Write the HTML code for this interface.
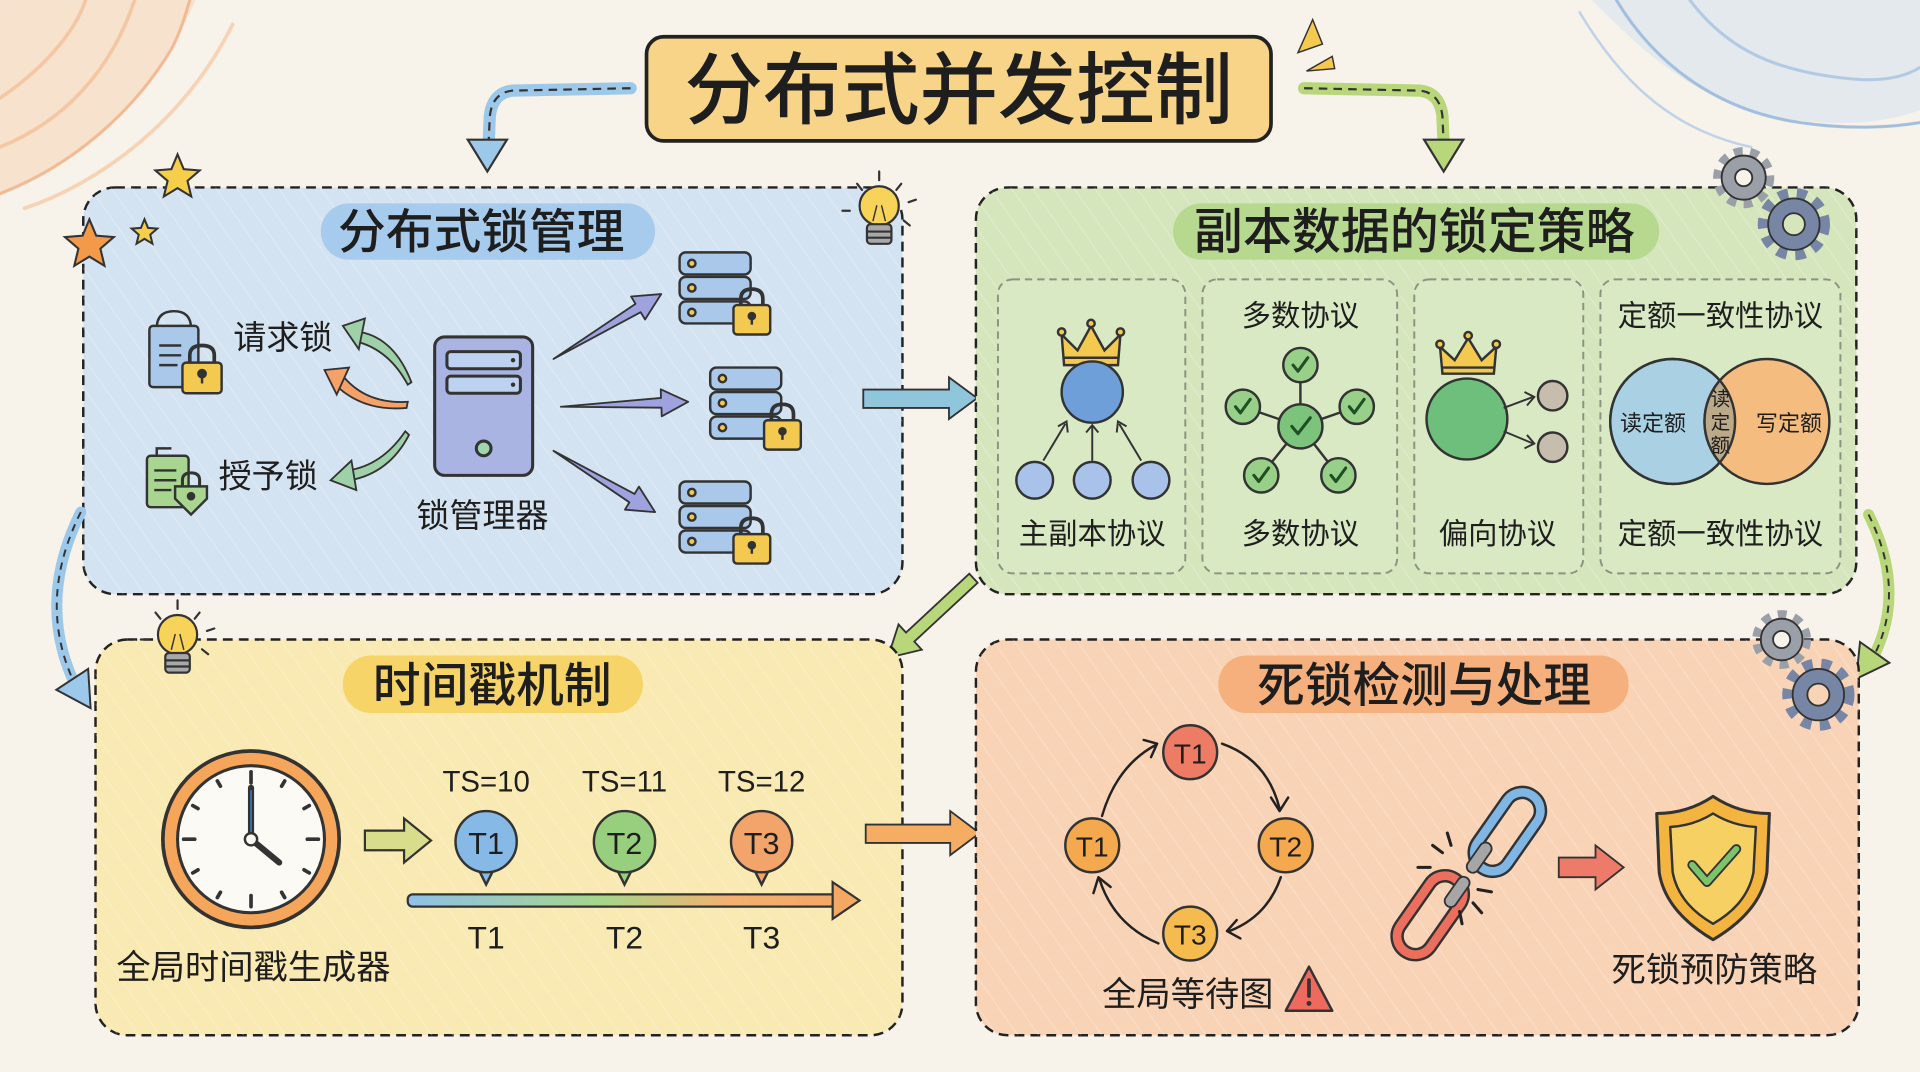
<!DOCTYPE html>
<html><head><meta charset="utf-8"><style>
html,body{margin:0;padding:0;background:#f7f3ea;}
svg{display:block;}
text{font-family:"Liberation Sans","Noto Sans CJK SC",sans-serif;fill:#1e1e1e;}
.h{font-weight:500;}
</style></head><body>
<svg width="1920" height="1072" viewBox="0 0 1568 875" preserveAspectRatio="none" xmlns="http://www.w3.org/2000/svg">
<defs>
<linearGradient id="tl" x1="0" x2="1" y1="0" y2="0">
<stop offset="0" stop-color="#8fc1e8"/><stop offset="0.45" stop-color="#a6d68a"/><stop offset="0.75" stop-color="#f3b070"/><stop offset="1" stop-color="#f3a865"/>
</linearGradient>
<pattern id="hatch" width="14" height="14" patternUnits="userSpaceOnUse" patternTransform="rotate(-35)">
<line x1="0" y1="0" x2="0" y2="14" stroke="#ffffff" stroke-width="1.2" opacity="0.35"/>
</pattern>
<clipPath id="vb"><circle cx="1366" cy="344" r="51"/></clipPath>
</defs>
<rect width="1568" height="875" fill="#f7f3ea"/>
<!-- background scribbles -->
<g opacity="0.55" fill="none" stroke-linecap="round">
<path d="M0,160 C40,140 90,110 120,70 C140,45 150,20 160,0 L0,0 Z" fill="#f7c9a0" stroke="none" opacity="0.7"/>
<path d="M0,158 C60,135 110,90 140,40 C148,25 152,10 155,0" stroke="#ef8a4a" stroke-width="2.5"/>
<path d="M0,120 C50,100 90,60 110,0" stroke="#f1a36a" stroke-width="3"/>
<path d="M0,80 C30,60 60,30 70,0" stroke="#f1a36a" stroke-width="3"/>
<path d="M20,170 C80,150 150,100 190,20" stroke="#f4b888" stroke-width="3"/>
<path d="M1300,0 C1340,40 1380,80 1450,95 C1500,105 1540,100 1568,90 L1568,0 Z" fill="#c6daf2" stroke="none" opacity="0.7"/>
<path d="M1320,0 C1350,50 1400,90 1470,100 C1510,106 1545,104 1568,100" stroke="#5b93d6" stroke-width="2.5"/>
<path d="M1380,0 C1410,40 1450,60 1520,65 C1545,66 1560,60 1568,55" stroke="#78a7df" stroke-width="2.5"/>
<path d="M1290,10 C1320,60 1360,105 1430,120" stroke="#8fb6e4" stroke-width="2"/>
</g>

<!-- title -->
<rect x="528" y="30" width="510" height="85" rx="14" fill="#f7d487" stroke="#222" stroke-width="3"/>
<text x="783" y="96" font-size="64" text-anchor="middle" class="h">分布式并发控制</text>
<g fill="#f3c94f" stroke="#333" stroke-width="1.2">
<polygon points="1060,43 1072,16 1080,36"/>
<polygon points="1067,58 1088,46 1090,56"/>
</g>

<!-- top connectors -->
<path d="M515,72 L418,74 Q402,76 400,95 L399,118" fill="none" stroke="#9cc8ea" stroke-width="10" stroke-linecap="round"/>
<path d="M515,72 L418,74 Q402,76 400,95 L399,118" fill="none" stroke="#333" stroke-width="1.8" stroke-dasharray="7,5"/>
<polygon points="382,114 414,114 398,140" fill="#9cc8ea" stroke="#333" stroke-width="1.8"/>
<path d="M1065,72 L1160,74 Q1176,76 1178,95 L1179,118" fill="none" stroke="#b7d77a" stroke-width="10" stroke-linecap="round"/>
<path d="M1065,72 L1160,74 Q1176,76 1178,95 L1179,118" fill="none" stroke="#333" stroke-width="1.8" stroke-dasharray="7,5"/>
<polygon points="1163,114 1195,114 1179,140" fill="#b7d77a" stroke="#333" stroke-width="1.8"/>

<!-- BLUE PANEL -->
<rect x="68" y="153" width="669" height="332" rx="26" fill="#d4e3f1" stroke="#222" stroke-width="2" stroke-dasharray="8,5"/>
<rect x="68" y="153" width="669" height="332" rx="26" fill="url(#hatch)"/>
<rect x="262" y="166" width="273" height="46" rx="23" fill="#a7cbed"/>
<text x="393" y="203" font-size="39" text-anchor="middle" class="h">分布式锁管理</text>
<!-- stars -->
<polygon transform="translate(145,145) scale(19)" points="0,-1 0.265,-0.364 0.951,-0.309 0.428,0.139 0.588,0.809 0,0.45 -0.588,0.809 -0.428,0.139 -0.951,-0.309 -0.265,-0.364" fill="#f5cf4c" stroke="#333" stroke-width="0.09"/>
<polygon transform="translate(73,200) scale(21)" points="0,-1 0.265,-0.364 0.951,-0.309 0.428,0.139 0.588,0.809 0,0.45 -0.588,0.809 -0.428,0.139 -0.951,-0.309 -0.265,-0.364" fill="#f2994a" stroke="#333" stroke-width="0.08"/>
<polygon transform="translate(118,190) scale(11)" points="0,-1 0.265,-0.364 0.951,-0.309 0.428,0.139 0.588,0.809 0,0.45 -0.588,0.809 -0.428,0.139 -0.951,-0.309 -0.265,-0.364" fill="#f5cf4c" stroke="#333" stroke-width="0.15"/>
<!-- lightbulb 1 -->
<g stroke="#333" stroke-width="1.8" stroke-linecap="round">
<circle cx="718" cy="168" r="16" fill="#f7d35a"/>
<rect x="708" y="183" width="20" height="16" rx="3" fill="#a8a8a8"/>
<line x1="709" y1="189" x2="727" y2="189"/><line x1="709" y1="194" x2="727" y2="194"/>
<path d="M713,180 L716,168 M723,180 L720,168" fill="none" stroke-width="1.2"/>
<line x1="718" y1="140" x2="718" y2="147"/><line x1="700" y1="150" x2="704" y2="155"/><line x1="736" y1="150" x2="732" y2="155"/>
<line x1="742" y1="165" x2="748" y2="163"/><line x1="694" y1="172" x2="688" y2="172"/><line x1="738" y1="180" x2="743" y2="184"/>
</g>
<!-- request lock doc -->
<g stroke="#333" stroke-width="2">
<path d="M128,268 Q128,254 142,254 Q156,254 156,268" fill="none"/>
<rect x="122" y="266" width="40" height="50" rx="3" fill="#a9c8ea"/>
<line x1="130" y1="282" x2="148" y2="282"/><line x1="130" y1="290" x2="148" y2="290"/><line x1="130" y1="298" x2="145" y2="298"/>
<path d="M155,297 L155,290 Q155,282 165,282 Q175,282 175,290 L175,297" fill="none" stroke-width="3"/>
<rect x="149" y="296" width="32" height="25" rx="3" fill="#f3c94f"/>
<circle cx="165" cy="305" r="3" fill="#333"/><line x1="165" y1="306" x2="165" y2="313"/>
</g>
<text x="231" y="285" font-size="27" text-anchor="middle">请求锁</text>
<!-- grant lock clipboard -->
<g stroke="#333" stroke-width="2">
<rect x="120" y="372" width="34" height="42" rx="3" fill="#a8d590"/>
<path d="M128,372 L128,366 L140,366" fill="none"/>
<line x1="126" y1="384" x2="144" y2="384"/><line x1="126" y1="392" x2="144" y2="392"/><line x1="126" y1="400" x2="140" y2="400"/>
<path d="M149,398 L149,392 Q149,386 156,386 Q163,386 163,392 L163,398" fill="none" stroke-width="2.5"/>
<path d="M143,397 L169,397 L169,407 L156,420 L143,407 Z" fill="#a8d590"/>
<circle cx="156" cy="405" r="2.5" fill="#333"/>
</g>
<text x="219" y="398" font-size="27" text-anchor="middle">授予锁</text>
<!-- curved arrows left -->
<g stroke="#333" stroke-width="1.5">
<path d="M336,312 Q322,276 294,271 L292,279 Q318,286 333,314 Z" fill="#9fd1a8"/>
<polygon points="280,266 298,260 293,285" fill="#9fd1a8"/>
<path d="M333,328 Q300,330 281,308 L276,316 Q298,336 332,333 Z" fill="#f4a26a"/>
<polygon points="265,302 285,300 275,322" fill="#f4a26a"/>
<path d="M331,352 Q312,380 284,384 L286,392 Q318,386 334,355 Z" fill="#9fd1a8"/>
<polygon points="270,392 287,376 291,400" fill="#9fd1a8"/>
</g>
<!-- lock manager tower -->
<g stroke="#333" stroke-width="2.5">
<rect x="355" y="275" width="80" height="113" rx="8" fill="#a9b4e2"/>
<rect x="365" y="287" width="60" height="14" rx="3" fill="#bcd2f0"/>
<rect x="365" y="307" width="60" height="14" rx="3" fill="#bcd2f0"/>
<circle cx="395" cy="366" r="6" fill="#9fd4ae"/>
</g>
<circle cx="419" cy="294" r="1.8" fill="#333"/><circle cx="419" cy="314" r="1.8" fill="#333"/>
<text x="394" y="430" font-size="27" text-anchor="middle">锁管理器</text>
<!-- purple arrows -->
<g fill="#9ea2de" stroke="#333" stroke-width="1.5" stroke-linejoin="round">
<polygon points="452,293 523.2,254.8 526.8,260.8 540,240 515.4,242.0 519.0,248.0"/>
<polygon points="458,332 540.2,332.8 540.4,339.8 562,328 539.6,317.8 539.8,324.8"/>
<polygon points="452,368 514.0,410.0 510.4,416.0 535,418 521.8,397.2 518.2,403.2"/>
</g>
<!-- servers -->
<g stroke="#333" stroke-width="2">
<g transform="translate(555,206)">
<rect x="0" y="0" width="58" height="18" rx="5" fill="#a9c8ea"/><rect x="0" y="20" width="58" height="18" rx="5" fill="#a9c8ea"/><rect x="0" y="40" width="58" height="18" rx="5" fill="#a9c8ea"/>
<circle cx="10" cy="9" r="3" fill="#f3c94f"/><circle cx="10" cy="29" r="3" fill="#f3c94f"/><circle cx="10" cy="49" r="3" fill="#f3c94f"/>
<path d="M50,44 L50,38 Q50,30 59,30 Q68,30 68,38 L68,44" fill="none" stroke-width="3"/>
<rect x="44" y="43" width="30" height="24" rx="3" fill="#f3c94f"/>
<circle cx="59" cy="52" r="2.5" fill="#333"/><line x1="59" y1="53" x2="59" y2="59"/>
</g>
<g transform="translate(580,300)">
<rect x="0" y="0" width="58" height="18" rx="5" fill="#a9c8ea"/><rect x="0" y="20" width="58" height="18" rx="5" fill="#a9c8ea"/><rect x="0" y="40" width="58" height="18" rx="5" fill="#a9c8ea"/>
<circle cx="10" cy="9" r="3" fill="#f3c94f"/><circle cx="10" cy="29" r="3" fill="#f3c94f"/><circle cx="10" cy="49" r="3" fill="#f3c94f"/>
<path d="M50,44 L50,38 Q50,30 59,30 Q68,30 68,38 L68,44" fill="none" stroke-width="3"/>
<rect x="44" y="43" width="30" height="24" rx="3" fill="#f3c94f"/>
<circle cx="59" cy="52" r="2.5" fill="#333"/><line x1="59" y1="53" x2="59" y2="59"/>
</g>
<g transform="translate(555,393)">
<rect x="0" y="0" width="58" height="18" rx="5" fill="#a9c8ea"/><rect x="0" y="20" width="58" height="18" rx="5" fill="#a9c8ea"/><rect x="0" y="40" width="58" height="18" rx="5" fill="#a9c8ea"/>
<circle cx="10" cy="9" r="3" fill="#f3c94f"/><circle cx="10" cy="29" r="3" fill="#f3c94f"/><circle cx="10" cy="49" r="3" fill="#f3c94f"/>
<path d="M50,44 L50,38 Q50,30 59,30 Q68,30 68,38 L68,44" fill="none" stroke-width="3"/>
<rect x="44" y="43" width="30" height="24" rx="3" fill="#f3c94f"/>
<circle cx="59" cy="52" r="2.5" fill="#333"/><line x1="59" y1="53" x2="59" y2="59"/>
</g>
</g>

<!-- blue->green arrow -->
<polygon points="705,318 775,318 775,308 798,325 775,342 775,333 705,333" fill="#8fc6dc" stroke="#333" stroke-width="1.5"/>

<!-- GREEN PANEL -->
<rect x="797" y="153" width="719" height="332" rx="26" fill="#d5e6bd" stroke="#222" stroke-width="2" stroke-dasharray="8,5"/>
<rect x="797" y="153" width="719" height="332" rx="26" fill="url(#hatch)"/>
<rect x="958" y="166" width="397" height="46" rx="23" fill="#b6d88f"/>
<text x="1155" y="203" font-size="40" text-anchor="middle" class="h">副本数据的锁定策略</text>
<!-- gears top right -->
<g stroke="#333" stroke-width="1.5">
<circle cx="1424" cy="145" r="21" fill="none" stroke="#9ba0a8" stroke-width="8" stroke-dasharray="7,6"/>
<circle cx="1424" cy="145" r="18" fill="#9ba0a8"/>
<circle cx="1424" cy="145" r="7" fill="#f7f3ea"/>
<circle cx="1465" cy="183" r="25" fill="none" stroke="#7886a6" stroke-width="9" stroke-dasharray="8,7"/>
<circle cx="1465" cy="183" r="21" fill="#7886a6"/>
<circle cx="1465" cy="183" r="9" fill="#d5e6bd"/>
</g>
<!-- sub boxes -->
<g fill="#d9e9c4" stroke="#8b9480" stroke-width="1.6" stroke-dasharray="6,4">
<rect x="815" y="228" width="153" height="240" rx="12"/>
<rect x="982" y="228" width="159" height="240" rx="12"/>
<rect x="1155" y="228" width="138" height="240" rx="12"/>
<rect x="1307" y="228" width="196" height="240" rx="12"/>
</g>
<!-- sub1: primary copy -->
<g stroke="#333" stroke-width="2">
<path d="M869,298 L867,273 L880,286 L891,266 L902,286 L915,273 L913,298 Z" fill="#f3c94f"/>
<line x1="869" y1="292" x2="913" y2="292"/>
<circle cx="867" cy="271" r="3" fill="#f3c94f"/><circle cx="891" cy="264" r="3" fill="#f3c94f"/><circle cx="915" cy="271" r="3" fill="#f3c94f"/>
<circle cx="892" cy="320" r="25" fill="#6e9fd8"/>
<circle cx="845" cy="392" r="15" fill="#a9c2ea"/><circle cx="892" cy="392" r="15" fill="#a9c2ea"/><circle cx="940" cy="392" r="15" fill="#a9c2ea"/>
<line x1="852" y1="376" x2="870" y2="346" stroke-width="1.6"/><line x1="892" y1="376" x2="892" y2="348" stroke-width="1.6"/><line x1="932" y1="376" x2="914" y2="346" stroke-width="1.6"/>
<path d="M864,348 L871,344 L872,353" fill="none" stroke-width="1.6"/>
<path d="M887,353 L892,347 L897,353" fill="none" stroke-width="1.6"/>
<path d="M912,353 L913,344 L920,348" fill="none" stroke-width="1.6"/>
</g>
<text x="892" y="444" font-size="24" text-anchor="middle">主副本协议</text>
<!-- sub2: majority -->
<text x="1062" y="266" font-size="24" text-anchor="middle">多数协议</text>
<g stroke="#333" stroke-width="2">
<line x1="1062" y1="348" x2="1062" y2="300"/><line x1="1062" y1="348" x2="1015" y2="332"/><line x1="1062" y1="348" x2="1108" y2="332"/><line x1="1062" y1="348" x2="1030" y2="388"/><line x1="1062" y1="348" x2="1093" y2="388"/>
<circle cx="1062" cy="298" r="14" fill="#98d08a"/><circle cx="1015" cy="332" r="14" fill="#98d08a"/><circle cx="1108" cy="332" r="14" fill="#98d08a"/><circle cx="1030" cy="388" r="14" fill="#98d08a"/><circle cx="1093" cy="388" r="14" fill="#98d08a"/>
<circle cx="1062" cy="348" r="18" fill="#7cc47c"/>
</g>
<g fill="none" stroke="#1f4f22" stroke-width="2.5" stroke-linecap="round" stroke-linejoin="round">
<path d="M1056,298 L1060,303 L1068,292"/><path d="M1009,332 L1013,337 L1021,326"/><path d="M1102,332 L1106,337 L1114,326"/><path d="M1024,388 L1028,393 L1036,382"/><path d="M1087,388 L1091,393 L1099,382"/><path d="M1055,348 L1060,354 L1070,341"/>
</g>
<text x="1062" y="444" font-size="24" text-anchor="middle">多数协议</text>
<!-- sub3: biased -->
<g stroke="#333" stroke-width="2">
<path d="M1178,305 L1176,283 L1188,294 L1199,276 L1210,294 L1222,283 L1220,305 Z" fill="#f3c94f"/>
<line x1="1178" y1="300" x2="1220" y2="300"/>
<circle cx="1176" cy="281" r="3" fill="#f3c94f"/><circle cx="1199" cy="274" r="3" fill="#f3c94f"/><circle cx="1222" cy="281" r="3" fill="#f3c94f"/>
<circle cx="1198" cy="342" r="33" fill="#6dbf7b"/>
<circle cx="1268" cy="323" r="12" fill="#c7bdae"/><circle cx="1268" cy="365" r="12" fill="#c7bdae"/>
<line x1="1228" y1="333" x2="1252" y2="324" stroke-width="1.6"/><line x1="1228" y1="352" x2="1252" y2="362" stroke-width="1.6"/>
<path d="M1245,320 L1253,324 L1247,331" fill="none" stroke-width="1.6"/>
<path d="M1247,355 L1253,362 L1245,366" fill="none" stroke-width="1.6"/>
</g>
<text x="1223" y="444" font-size="24" text-anchor="middle">偏向协议</text>
<!-- sub4: quorum -->
<text x="1405" y="266" font-size="24" text-anchor="middle">定额一致性协议</text>
<g stroke="#333" stroke-width="2">
<circle cx="1366" cy="344" r="51" fill="#aad0e3"/>
<circle cx="1443" cy="344" r="51" fill="#f4bc7e"/>
<circle cx="1443" cy="344" r="51" fill="#bba98a" clip-path="url(#vb)"/>
<circle cx="1366" cy="344" r="51" fill="none"/>
</g>
<text x="1350" y="352" font-size="18" text-anchor="middle">读定额</text>
<text x="1461" y="352" font-size="18" text-anchor="middle">写定额</text>
<text x="1405" y="331" font-size="16" text-anchor="middle">读</text>
<text x="1405" y="350" font-size="16" text-anchor="middle">定</text>
<text x="1405" y="369" font-size="16" text-anchor="middle">额</text>
<text x="1405" y="444" font-size="24" text-anchor="middle">定额一致性协议</text>

<!-- green->yellow diagonal -->
<polygon points="791.6,468.3 739.9,516.3 733.8,509.7 725,537 752.8,530.3 746.7,523.7 798.4,475.7" fill="#b7d77a" stroke="#333" stroke-width="1.5"/>

<!-- left dashed connector -->
<path d="M66,418 Q30,490 60,556" fill="none" stroke="#9cc8ea" stroke-width="9" stroke-linecap="round"/>
<path d="M66,418 Q30,490 60,556" fill="none" stroke="#333" stroke-width="1.6" stroke-dasharray="6,5"/>
<polygon points="74,578 72,546 46,563" fill="#9cc8ea" stroke="#333" stroke-width="1.6"/>
<!-- right dashed connector -->
<path d="M1526,420 Q1556,480 1532,532" fill="none" stroke="#b7d77a" stroke-width="9" stroke-linecap="round"/>
<path d="M1526,420 Q1556,480 1532,532" fill="none" stroke="#333" stroke-width="1.6" stroke-dasharray="6,5"/>
<polygon points="1516,554 1543,541 1519,524" fill="#b7d77a" stroke="#333" stroke-width="1.6"/>

<!-- YELLOW PANEL -->
<rect x="78" y="522" width="659" height="323" rx="26" fill="#f9e9b2" stroke="#222" stroke-width="2" stroke-dasharray="8,5"/>
<rect x="78" y="522" width="659" height="323" rx="26" fill="url(#hatch)"/>
<rect x="280" y="535" width="245" height="47" rx="23" fill="#f7d467"/>
<text x="402" y="573" font-size="39" text-anchor="middle" class="h">时间戳机制</text>
<!-- lightbulb 2 -->
<g stroke="#333" stroke-width="1.8" stroke-linecap="round">
<circle cx="145" cy="518" r="16" fill="#f7d35a"/>
<rect x="135" y="533" width="20" height="16" rx="3" fill="#a8a8a8"/>
<line x1="136" y1="539" x2="154" y2="539"/><line x1="136" y1="544" x2="154" y2="544"/>
<path d="M140,530 L143,518 M150,530 L147,518" fill="none" stroke-width="1.2"/>
<line x1="145" y1="490" x2="145" y2="497"/><line x1="127" y1="500" x2="131" y2="505"/><line x1="163" y1="500" x2="159" y2="505"/>
<line x1="169" y1="515" x2="175" y2="513"/><line x1="121" y1="522" x2="115" y2="522"/><line x1="165" y1="530" x2="170" y2="534"/>
</g>
<!-- clock -->
<g stroke="#333">
<circle cx="205" cy="685" r="72" fill="#f5a65b" stroke-width="3"/>
<circle cx="205" cy="685" r="60" fill="#fbfaf4" stroke-width="2.5"/>
<g stroke-width="3" stroke-linecap="round">
<line x1="205" y1="630" x2="205" y2="639"/><line x1="205" y1="731" x2="205" y2="740"/><line x1="150" y1="685" x2="159" y2="685"/><line x1="251" y1="685" x2="260" y2="685"/>
<line x1="232.5" y1="637.4" x2="230" y2="641.7"/><line x1="252.6" y1="657.5" x2="248.3" y2="660"/><line x1="252.6" y1="712.5" x2="248.3" y2="710"/><line x1="232.5" y1="732.6" x2="230" y2="728.3"/>
<line x1="177.5" y1="732.6" x2="180" y2="728.3"/><line x1="157.4" y1="712.5" x2="161.7" y2="710"/><line x1="157.4" y1="657.5" x2="161.7" y2="660"/><line x1="177.5" y1="637.4" x2="180" y2="641.7"/>
</g>
<line x1="205" y1="685" x2="205" y2="643" stroke-width="5" stroke-linecap="round"/>
<line x1="205" y1="685" x2="205" y2="645" stroke="#3b6fb0" stroke-width="1.5"/>
<line x1="205" y1="685" x2="228" y2="704" stroke-width="5" stroke-linecap="round"/>
<circle cx="205" cy="685" r="5" fill="#fbfaf4" stroke-width="2"/>
</g>
<text x="207" y="799" font-size="28" text-anchor="middle">全局时间戳生成器</text>
<!-- small arrow -->
<polygon points="298,678 330,678 330,668 352,686 330,704 330,694 298,694" fill="#d7dd8a" stroke="#333" stroke-width="1.8"/>
<!-- TS labels -->
<text x="397" y="646" font-size="24" text-anchor="middle">TS=10</text>
<text x="510" y="646" font-size="24" text-anchor="middle">TS=11</text>
<text x="622" y="646" font-size="24" text-anchor="middle">TS=12</text>
<!-- pins -->
<g stroke="#333" stroke-width="2">
<path d="M390,708 L397,722 L404,708" fill="#86b9e6"/><circle cx="397" cy="687" r="25" fill="#86b9e6"/>
<path d="M503,708 L510,722 L517,708" fill="#98cf7e"/><circle cx="510" cy="687" r="25" fill="#98cf7e"/>
<path d="M615,708 L622,722 L629,708" fill="#f3a46a"/><circle cx="622" cy="687" r="25" fill="#f3a46a"/>
</g>
<text x="397" y="697" font-size="25" text-anchor="middle">T1</text>
<text x="510" y="697" font-size="25" text-anchor="middle">T2</text>
<text x="622" y="697" font-size="25" text-anchor="middle">T3</text>
<!-- timeline -->
<rect x="333" y="730" width="352" height="10" rx="4" fill="url(#tl)" stroke="#333" stroke-width="1.8"/>
<polygon points="680,720 702,735 680,750" fill="#f3a865" stroke="#333" stroke-width="1.8"/>
<text x="397" y="774" font-size="26" text-anchor="middle">T1</text>
<text x="510" y="774" font-size="26" text-anchor="middle">T2</text>
<text x="622" y="774" font-size="26" text-anchor="middle">T3</text>

<!-- yellow->orange arrow -->
<polygon points="707,673 776,673 776,662 800,680 776,698 776,688 707,688" fill="#f5ad64" stroke="#333" stroke-width="1.5"/>

<!-- ORANGE PANEL -->
<rect x="797" y="522" width="721" height="323" rx="26" fill="#f9d3b6" stroke="#222" stroke-width="2" stroke-dasharray="8,5"/>
<rect x="797" y="522" width="721" height="323" rx="26" fill="url(#hatch)"/>
<rect x="995" y="535" width="335" height="47" rx="23" fill="#f5b07d"/>
<text x="1163" y="573" font-size="39" text-anchor="middle" class="h">死锁检测与处理</text>
<!-- gears bottom right -->
<g stroke="#333" stroke-width="1.5">
<circle cx="1455" cy="522" r="20" fill="none" stroke="#9ba0a8" stroke-width="8" stroke-dasharray="7,6"/>
<circle cx="1455" cy="522" r="17" fill="#9ba0a8"/>
<circle cx="1455" cy="522" r="7" fill="#f7f3ea"/>
<circle cx="1485" cy="567" r="25" fill="none" stroke="#7886a6" stroke-width="9" stroke-dasharray="8,7"/>
<circle cx="1485" cy="567" r="21" fill="#7886a6"/>
<circle cx="1485" cy="567" r="9" fill="#f9d3b6"/>
</g>
<!-- wait-for graph -->
<g fill="none" stroke="#222" stroke-width="2" stroke-linecap="round" stroke-linejoin="round">
<path d="M900,666 Q912,625 944,608"/><path d="M934,604 L945,607 L940,618"/>
<path d="M998,607 Q1035,620 1045,660"/><path d="M1038,651 L1045,662 L1052,651"/>
<path d="M1046,716 Q1035,748 1004,760"/><path d="M1010,751 L1002,760 L1013,766"/>
<path d="M946,770 Q910,755 898,718"/><path d="M893,729 L897,716 L907,724"/>
</g>
<g stroke="#333" stroke-width="2">
<circle cx="972" cy="614" r="22" fill="#ee7b64"/>
<circle cx="1050" cy="690" r="22" fill="#f4a94f"/>
<circle cx="972" cy="762" r="22" fill="#f5bb4e"/>
<circle cx="892" cy="690" r="22" fill="#f4a94f"/>
</g>
<text x="972" y="623" font-size="23" text-anchor="middle">T1</text>
<text x="1050" y="699" font-size="23" text-anchor="middle">T2</text>
<text x="972" y="771" font-size="23" text-anchor="middle">T3</text>
<text x="892" y="699" font-size="23" text-anchor="middle">T1</text>
<text x="970" y="821" font-size="28" text-anchor="middle">全局等待图</text>
<path d="M1069,789 L1088,825 L1050,825 Z" fill="#ee6a5f" stroke="#333" stroke-width="2" stroke-linejoin="round"/>
<line x1="1069" y1="800" x2="1069" y2="813" stroke="#333" stroke-width="3" stroke-linecap="round"/>
<circle cx="1069" cy="819" r="2" fill="#333"/>
<!-- broken chain -->
<g transform="translate(1231,679) rotate(35)">
<rect x="-15" y="-36" width="30" height="72" rx="15" fill="none" stroke="#333" stroke-width="11"/>
<rect x="-15" y="-36" width="30" height="72" rx="15" fill="none" stroke="#7fb6e4" stroke-width="7"/>
</g>
<g transform="translate(1168,747) rotate(35)">
<rect x="-15" y="-36" width="30" height="72" rx="15" fill="none" stroke="#333" stroke-width="11"/>
<rect x="-15" y="-36" width="30" height="72" rx="15" fill="none" stroke="#ec6f5e" stroke-width="7"/>
</g>
<g stroke="#333" stroke-width="1.5">
<rect x="-5" y="-14" width="10" height="28" rx="5" fill="#a6a6a6" transform="translate(1208,700) rotate(35)"/>
<rect x="-5" y="-14" width="10" height="28" rx="5" fill="#a6a6a6" transform="translate(1190,728) rotate(35)"/>
</g>
<g stroke="#222" stroke-width="2.5" stroke-linecap="round">
<line x1="1170" y1="690" x2="1178" y2="696"/><line x1="1182" y1="680" x2="1185" y2="690"/><line x1="1158" y1="708" x2="1168" y2="708"/>
<line x1="1207" y1="726" x2="1218" y2="728"/><line x1="1203" y1="737" x2="1210" y2="745"/><line x1="1192" y1="744" x2="1194" y2="754"/>
</g>
<!-- red arrow -->
<polygon points="1273,700 1303,700 1303,690 1326,708 1303,726 1303,716 1273,716" fill="#ee7b6a" stroke="#333" stroke-width="1.5"/>
<!-- shield -->
<path d="M1399,650 Q1378,664 1353,664 L1355,712 Q1360,744 1399,767 Q1438,744 1443,712 L1445,664 Q1420,664 1399,650 Z" fill="#f4b440" stroke="#333" stroke-width="2.5" stroke-linejoin="round"/>
<path d="M1399,664 Q1383,674 1364,675 L1366,712 Q1371,738 1399,754 Q1427,738 1432,712 L1434,675 Q1415,674 1399,664 Z" fill="#f7d064" stroke="#333" stroke-width="2" stroke-linejoin="round"/>
<path d="M1382,706 L1394,720 L1418,693" fill="none" stroke="#333" stroke-width="8" stroke-linecap="round" stroke-linejoin="round"/>
<path d="M1382,706 L1394,720 L1418,693" fill="none" stroke="#7cc46a" stroke-width="5" stroke-linecap="round" stroke-linejoin="round"/>
<text x="1400" y="801" font-size="28" text-anchor="middle">死锁预防策略</text>
</svg>
</body></html>
